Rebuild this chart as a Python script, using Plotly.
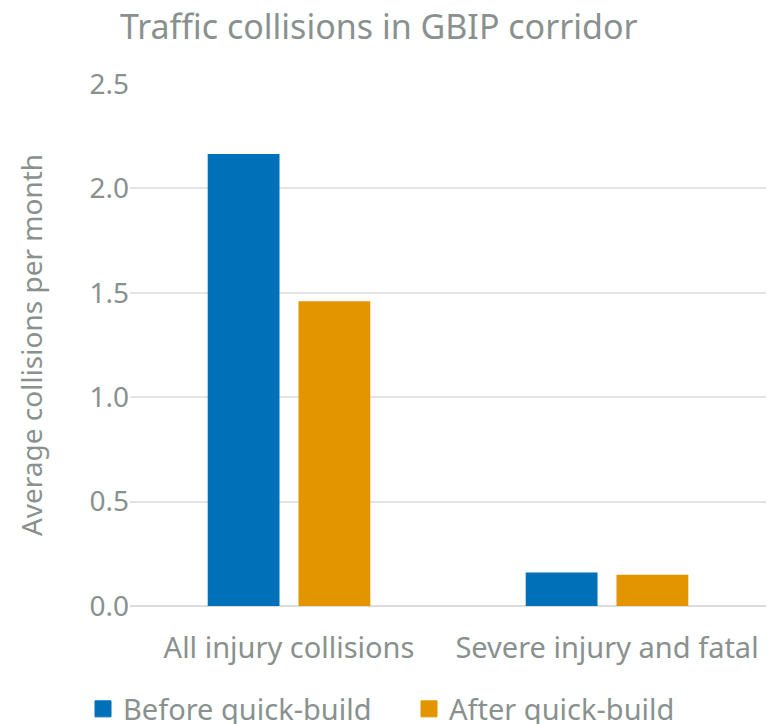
import plotly.graph_objects as go

categories = ["All injury collisions", "Severe injury and fatal"]
before_vals = [2.165, 0.16]
after_vals = [1.46, 0.15]
series_names = ["Before quick-build", "After quick-build"]
series_colors = ["#0070B8", "#E39500"]
y_ticks = [0.0, 0.5, 1.0, 1.5, 2.0, 2.5]
y_tick_labels = ["0.0", "0.5", "1.0", "1.5", "2.0", "2.5"]

TXT = "#89918F"
FONT = "Noto Sans"
L, R, T, B = 130, 7, 84, 118
W, H = 773, 724
PW, PH = W - L - R, H - T - B

fig = go.Figure()
for name, vals, col in zip(series_names, [before_vals, after_vals], series_colors):
    fig.add_trace(go.Bar(x=categories, y=vals, name=name, legendgroup=name, showlegend=False,
                         marker=dict(color=col, line=dict(width=0))))
# legend proxies (larger square swatches)
for name, col in zip(series_names, series_colors):
    fig.add_trace(go.Scatter(x=[None], y=[None], mode="markers", name=name, legendgroup=name,
                             marker=dict(symbol="square", size=16, color=col,
                                         line=dict(width=1, color=col))))

fig.update_layout(
    width=W, height=H,
    paper_bgcolor="white", plot_bgcolor="white",
    font=dict(family=FONT, color=TXT, size=28),
    margin=dict(l=L, r=R, t=T, b=B, autoexpand=False),
    barmode="group", bargap=0.429, bargroupgap=0.209,
    title=dict(text="Traffic collisions in GBIP corridor", x=0.49, xref="container",
               xanchor="center", y=1 - 27 / H, yref="container", yanchor="middle",
               font=dict(size=34, color=TXT, family=FONT)),
    legend=dict(orientation="h", x=(83 - L) / PW, xref="paper", xanchor="left",
                y=-(709 - (H - B)) / PH, yref="paper", yanchor="middle",
                font=dict(size=29, color=TXT), itemwidth=30, entrywidth=281,
                entrywidthmode="pixels", traceorder="normal", itemsizing="trace"),
    hovermode=False,
    showlegend=True,
)
fig.update_xaxes(showgrid=False, showline=False, ticks="", tickfont=dict(size=29, color=TXT),
                 ticklabelstandoff=22)
fig.update_yaxes(range=[0, 2.5], tickvals=y_ticks, ticktext=y_tick_labels,
                 showgrid=True, gridcolor="#E4E4E4", gridwidth=1.5,
                 zeroline=True, zerolinecolor="#DCDCDC", zerolinewidth=2,
                 showline=False, ticks="", tickfont=dict(size=28, color=TXT),
                 title=dict(text="Average collisions per month", font=dict(size=28, color=TXT), standoff=38))

fig.write_html("out.html", post_script="document.body.style.margin='0';",
               config={"displayModeBar": False})
